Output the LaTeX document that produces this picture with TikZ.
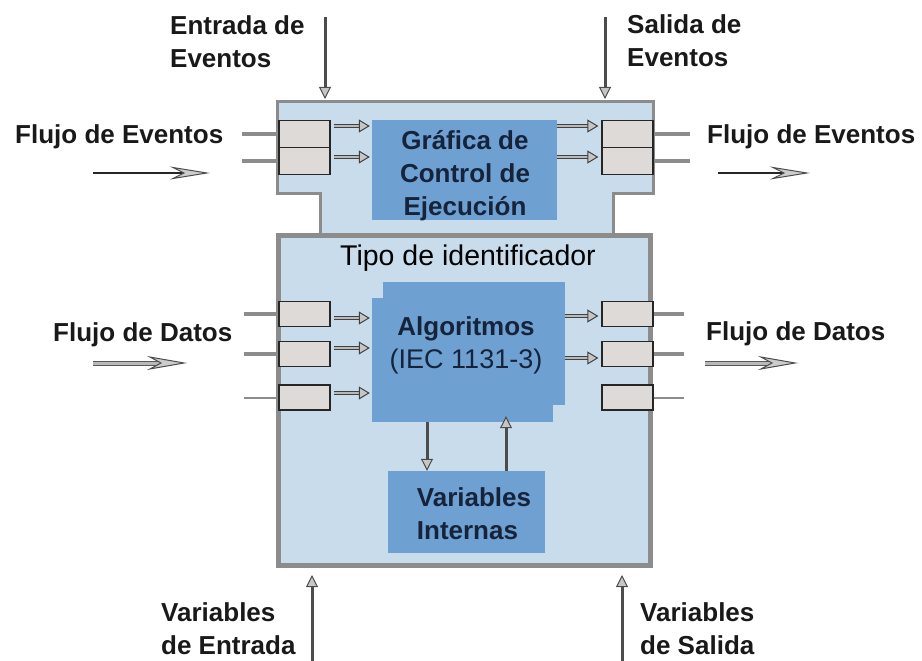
\documentclass[tikz,border=0pt]{standalone}
\usepackage{fontspec}
\setmainfont{Liberation Sans}
\usetikzlibrary{arrows.meta,positioning}

\definecolor{azulclaro}{HTML}{C9DCEB}
\definecolor{azulbloque}{HTML}{6FA0D2}
\definecolor{grisborde}{HTML}{8C8C8C}
\definecolor{grispuerto}{HTML}{DEDAD8}
\definecolor{textoazul}{HTML}{15243A}

\tikzset{
  bloque/.style={fill=azulbloque, inner sep=0pt, text=textoazul,
    font=\fontsize{26}{33}\selectfont\bfseries, align=center},
  textobloque/.style={inner sep=0pt, text=textoazul,
    font=\fontsize{26}{33}\selectfont\bfseries, align=center},
  puerto/.style={draw=black!85, line width=1.3pt, fill=grispuerto,
    minimum width=51pt, minimum height=27pt, inner sep=0pt},
  etiqueta/.style={inner sep=0pt, text=black!90, align=left,
    font=\fontsize{26}{33}\selectfont\bfseries},
  talon/.style={draw=grisborde, line width=4pt},
  punta/.style={-{Triangle[length=11pt, width=13pt, fill=gray!45, color=black!75, line width=1pt]}},
  flechad/.style={draw=black!75, double=gray!55, double distance=2.4pt,
    line width=1.1pt, punta},
  flechav/.style={draw=black!70, line width=3pt,
    -{Triangle[length=12pt, width=12pt, fill=gray!45, color=black!70, line width=1pt]}},
  flujo/.style={draw=black!85, line width=1.8pt,
    -{Stealth[length=40pt, width=13pt, inset=13pt, color=black!70, fill=gray!40, line width=1pt]}},
  flujod/.style={draw=black!65, double=gray!55, double distance=3pt, line width=1pt,
    -{Stealth[length=40pt, width=14pt, inset=13pt, color=black!70, fill=gray!40, line width=1pt]}}
}

\begin{document}
\begin{tikzpicture}[x=1pt, y=-1pt]
  % Marco en pixeles (origen arriba a la izquierda)
  \useasboundingbox (0,0) rectangle (922,661);

  % Parametros de los puertos
  \def\xpi{304.5}   % columna de puertos de entrada
  \def\xpo{627.5}   % columna de puertos de salida

  % Cabeza del bloque funcional (eventos)
  \filldraw[fill=azulclaro, draw=grisborde, line width=3pt]
    (277,102) -- (653,102) -- (653,193) -- (613,193) -- (613,240)
    -- (320,240) -- (320,193) -- (277,193) -- cycle;

  % Cuerpo del bloque funcional (datos)
  \node[draw=grisborde, line width=5pt, fill=azulclaro, minimum width=372pt,
    minimum height=330pt, inner sep=0pt] (cuerpo) at (464.5,400.5) {};
  \node[inner sep=0pt, anchor=base, font=\fontsize{28.5}{33}\selectfont] (tipo)
    at (468,265) {Tipo de identificador};

  % Bloques internos
  \node[bloque, minimum width=185pt, minimum height=100pt] (ecc) at (464.5,170) {};
  \node[textobloque] (ecctxt) at (465,176) {Gráfica de\\Control de\\Ejecución};
  \node[bloque, minimum width=182pt, minimum height=123pt] (algf) at (474,343.5) {};
  \node[bloque, minimum width=181pt, minimum height=124pt] (alg) at (462.5,360) {};
  \node[textobloque] (algtxt) at (466,345)
    {Algoritmos\\{\fontsize{27}{33}\selectfont\mdseries (IEC 1131-3)}};
  \node[bloque, minimum width=157pt, minimum height=82pt] (vint) at (466.5,512) {};
  \node[textobloque, align=left] (vinttxt) at (474,514) {Variables\\Internas};

  % Puertos de eventos
  \node[puerto] (ein1) at (\xpi,134) {};
  \node[puerto] (ein2) at (\xpi,161) {};
  \node[puerto] (eout1) at (\xpo,134) {};
  \node[puerto] (eout2) at (\xpo,161) {};

  % Puertos de datos
  \node[puerto, minimum height=25pt] (din1) at (\xpi,314) {};
  \node[puerto, minimum height=25pt] (din2) at (\xpi,354) {};
  \node[puerto, minimum height=25pt] (din3) at (\xpi,397.5) {};
  \node[puerto, minimum height=25pt] (dout1) at (\xpo,314) {};
  \node[puerto, minimum height=25pt] (dout2) at (\xpo,354) {};
  \node[puerto, minimum height=25pt] (dout3) at (\xpo,397.5) {};

  % Conexiones externas de los puertos
  \draw[talon] (ein1.west) -- ++(-36,0);
  \draw[talon] (ein2.west) -- ++(-36,0);
  \draw[talon] (eout1.east) -- ++(36,0);
  \draw[talon] (eout2.east) -- ++(36,0);
  \draw[talon] (din1.west) -- ++(-34,0);
  \draw[talon] (din2.west) -- ++(-34,0);
  \draw[talon, line width=2pt] (din3.west) -- ++(-34,0);
  \draw[talon] (dout1.east) -- ++(30,0);
  \draw[talon] (dout2.east) -- ++(30,0);
  \draw[talon, line width=2pt] (dout3.east) -- ++(30,0);

  % Flechas internas de eventos
  \draw[flechad, shorten <=3pt, shorten >=2pt] ([yshift=8pt]ein1.east) -- ([yshift=8pt]ein1.east -| ecc.west);
  \draw[flechad, shorten <=3pt, shorten >=2pt] ([yshift=4pt]ein2.east) -- ([yshift=4pt]ein2.east -| ecc.west);
  \draw[flechad, shorten >=3pt] ([yshift=8pt]ecc.east |- eout1.west) -- ([yshift=8pt]eout1.west);
  \draw[flechad, shorten >=3pt] ([yshift=4pt]ecc.east |- eout2.west) -- ([yshift=4pt]eout2.west);

  % Flechas internas de datos
  \draw[flechad, shorten <=3pt, shorten >=2pt] ([yshift=-4pt]din1.east) -- ([yshift=-4pt]din1.east -| alg.west);
  \draw[flechad, shorten <=3pt, shorten >=2pt] ([yshift=6pt]din2.east) -- ([yshift=6pt]din2.east -| alg.west);
  \draw[flechad, shorten <=3pt, shorten >=2pt] ([yshift=4.5pt]din3.east) -- ([yshift=4.5pt]din3.east -| alg.west);
  \draw[flechad, shorten >=3pt] ([yshift=-2pt]algf.east |- dout1.west) -- ([yshift=-2pt]dout1.west);
  \draw[flechad, shorten >=3pt] ([yshift=-4pt]algf.east |- dout2.west) -- ([yshift=-4pt]dout2.west);

  % Algoritmos <-> Variables internas
  \draw[flechav] ([xshift=-35.5pt]alg.south) -- ([xshift=-35.5pt]alg.south |- vint.north);
  \draw[flechav, shorten >=-6pt] ([xshift=43.5pt]alg.south |- vint.north) -- ([xshift=43.5pt]alg.south);

  % Entradas y salidas verticales
  \coordinate (ee0) at (325,17);  \coordinate (ee1) at (325,99);
  \coordinate (se0) at (605,17);  \coordinate (se1) at (605,99);
  \coordinate (ve0) at (312,661); \coordinate (ve1) at (312,575);
  \coordinate (vs0) at (622,661); \coordinate (vs1) at (622,575);
  \draw[flechav] (ee0) -- (ee1);
  \draw[flechav] (se0) -- (se1);
  \draw[flechav] (ve0) -- (ve1);
  \draw[flechav] (vs0) -- (vs1);

  % Flechas de flujo
  \coordinate (fe0) at (93,173);  \coordinate (fe1) at (210,173);
  \coordinate (fs0) at (718,173); \coordinate (fs1) at (810,173);
  \coordinate (fd0) at (93,363);  \coordinate (fd1) at (187,363);
  \coordinate (fds0) at (705,363); \coordinate (fds1) at (798,363);
  \draw[flujo] (fe0) -- (fe1);
  \draw[flujo] (fs0) -- (fs1);
  \draw[flujod] (fd0) -- (fd1);
  \draw[flujod] (fds0) -- (fds1);

  % Etiquetas
  \node[etiqueta, anchor=west] (lee) at (170,42) {Entrada de\\Eventos};
  \node[etiqueta, anchor=west] (lse) at (627,41) {Salida de\\Eventos};
  \node[etiqueta, anchor=base west] (lfe) at (15,143) {Flujo de Eventos};
  \node[etiqueta, anchor=base west] (lfs) at (707,143) {Flujo de Eventos};
  \node[etiqueta, anchor=base west] (lfd) at (53,341) {Flujo de Datos};
  \node[etiqueta, anchor=base west] (lfds) at (706,340) {Flujo de Datos};
  \node[etiqueta, anchor=west] (lve) at (161,629) {Variables\\de Entrada};
  \node[etiqueta, anchor=west] (lvs) at (640,629) {Variables\\de Salida};
\end{tikzpicture}
\end{document}
